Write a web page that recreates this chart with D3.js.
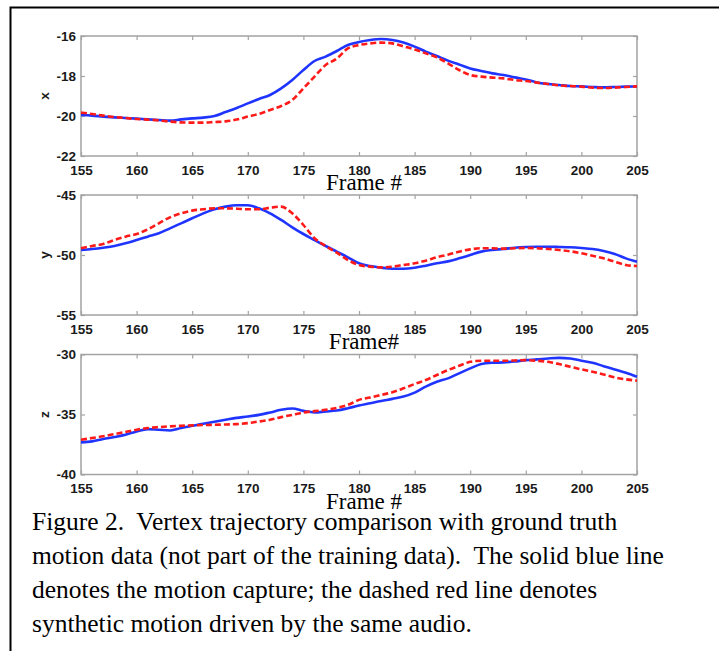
<!DOCTYPE html>
<html>
<head>
<meta charset="utf-8">
<script src="https://cdn.jsdelivr.net/npm/d3@7"></script>
<style>
  body { margin: 0; background: #fff; }
  svg { display: block; }
</style>
</head>
<body>
<svg id="chart"></svg>
<script>
// frame numbers shared by all three panels
var frames = [155, 156, 157, 158, 159, 160, 161, 162, 163, 164, 165, 166, 167, 168, 169, 170,
  171, 172, 173, 174, 175, 176, 177, 178, 179, 180, 181, 182, 183, 184, 185, 186, 187, 188,
  189, 190, 191, 192, 193, 194, 195, 196, 197, 198, 199, 200, 201, 202, 203, 204, 205];
var frameTicks = [155, 160, 165, 170, 175, 180, 185, 190, 195, 200, 205];

// X coordinate: motion capture (blue) vs synthetic (red)
var xCapture = [-19.95, -19.98, -20.03, -20.07, -20.1, -20.13, -20.17, -20.2, -20.23, -20.17,
  -20.12, -20.08, -20.0, -19.8, -19.6, -19.37, -19.15, -18.95, -18.62, -18.2, -17.7, -17.25,
  -17.03, -16.75, -16.45, -16.3, -16.2, -16.15, -16.2, -16.33, -16.53, -16.78, -17.0, -17.23,
  -17.42, -17.62, -17.75, -17.87, -17.95, -18.07, -18.17, -18.32, -18.4, -18.45, -18.5,
  -18.52, -18.55, -18.57, -18.55, -18.53, -18.52];
var xSynth = [-19.83, -19.9, -19.98, -20.05, -20.1, -20.15, -20.18, -20.22, -20.28, -20.32,
  -20.33, -20.33, -20.3, -20.27, -20.18, -20.03, -19.9, -19.7, -19.5, -19.2, -18.62, -18.03,
  -17.45, -17.13, -16.62, -16.45, -16.37, -16.33, -16.37, -16.52, -16.67, -16.87, -17.07,
  -17.37, -17.7, -17.95, -18.03, -18.08, -18.12, -18.2, -18.25, -18.33, -18.4, -18.47, -18.5,
  -18.53, -18.58, -18.6, -18.58, -18.55, -18.52];

// Y coordinate
var yCapture = [-49.58, -49.5, -49.39, -49.25, -49.03, -48.75, -48.47, -48.19, -47.78, -47.36,
  -46.94, -46.53, -46.19, -45.97, -45.86, -45.86, -46.11, -46.53, -47.08, -47.69, -48.25,
  -48.75, -49.25, -49.72, -50.19, -50.69, -50.92, -51.06, -51.14, -51.14, -51.06, -50.89,
  -50.69, -50.53, -50.28, -50.0, -49.72, -49.58, -49.5, -49.39, -49.33, -49.31, -49.31,
  -49.33, -49.36, -49.42, -49.5, -49.67, -49.92, -50.28, -50.56];
var ySynth = [-49.44, -49.25, -49.08, -48.75, -48.47, -48.25, -47.86, -47.36, -46.86, -46.53,
  -46.3, -46.19, -46.11, -46.11, -46.14, -46.19, -46.19, -46.06, -45.97, -46.53, -47.5, -48.6,
  -49.25, -49.8, -50.42, -50.83, -50.97, -51.03, -50.97, -50.83, -50.69, -50.47, -50.19,
  -49.97, -49.72, -49.53, -49.44, -49.44, -49.47, -49.44, -49.42, -49.44, -49.5, -49.58,
  -49.69, -49.86, -50.06, -50.28, -50.56, -50.83, -50.92];

// Z coordinate
var zCapture = [-37.32, -37.24, -37.04, -36.88, -36.69, -36.41, -36.22, -36.27, -36.33, -36.13,
  -35.94, -35.77, -35.61, -35.44, -35.28, -35.17, -35.03, -34.83, -34.61, -34.5, -34.7, -34.83,
  -34.75, -34.67, -34.48, -34.25, -34.06, -33.87, -33.7, -33.51, -33.18, -32.68, -32.27,
  -31.99, -31.57, -31.16, -30.8, -30.69, -30.66, -30.58, -30.47, -30.41, -30.33, -30.28,
  -30.33, -30.52, -30.69, -30.97, -31.24, -31.52, -31.85];
var zSynth = [-37.1, -36.96, -36.82, -36.63, -36.46, -36.27, -36.13, -36.05, -35.99, -35.94,
  -35.91, -35.88, -35.86, -35.83, -35.8, -35.72, -35.58, -35.44, -35.22, -35.03, -34.83, -34.72,
  -34.61, -34.45, -34.2, -33.78, -33.59, -33.37, -33.15, -32.82, -32.46, -32.13, -31.71, -31.3,
  -30.94, -30.61, -30.52, -30.52, -30.52, -30.5, -30.47, -30.52, -30.61, -30.8, -31.02, -31.24,
  -31.44, -31.66, -31.91, -32.07, -32.18];

var xTicks = [-22, -20, -18, -16];
var yTicks = [-55, -50, -45];
var zTicks = [-40, -35, -30];

var xLabels = ["Frame #", "Frame#", "Frame #"];
var captionLines = [
  "Figure 2.  Vertex trajectory comparison with ground truth",
  "motion data (not part of the training data).  The solid blue line",
  "denotes the motion capture; the dashed red line denotes",
  "synthetic motion driven by the same audio."
];

var panels = [
  { name: "x", capture: xCapture, synth: xSynth, ticks: xTicks, top: 36 },
  { name: "y", capture: yCapture, synth: ySynth, ticks: yTicks, top: 195 },
  { name: "z", capture: zCapture, synth: zSynth, ticks: zTicks, top: 354.5 }
];

var svgWidth = 719, svgHeight = 651;
var left = 81, right = 637, plotH = 120;
var boxColor = "#a3a3a3";
var tickFont = "'Liberation Sans', Arial, sans-serif";
var serif = "'Liberation Serif', 'Times New Roman', serif";
var plain = function (d) { return String(d); }; // hyphen minus, no decimals

var svg = d3.select("#chart")
  .attr("width", svgWidth)
  .attr("height", svgHeight);

// outer figure frame (only top and left edges are visible)
svg.append("path")
  .attr("d", "M10.5,651 V7.5 H719")
  .attr("fill", "none")
  .attr("stroke", "#000")
  .attr("stroke-width", 2);

var x = d3.scaleLinear()
  .domain([155, 205])
  .range([left, right]);

panels.forEach(function (p, i) {
  var y = d3.scaleLinear()
    .domain(d3.extent(p.ticks))
    .range([p.top + plotH, p.top]);

  var g = svg.append("g");

  // axes on all four sides, ticks pointing inward
  var bottom = g.append("g")
    .attr("transform", "translate(0," + (p.top + plotH) + ")")
    .call(d3.axisBottom(x).tickValues(frameTicks).tickSizeInner(-4).tickSizeOuter(0)
      .tickPadding(9).tickFormat(plain));
  var top = g.append("g")
    .attr("transform", "translate(0," + p.top + ")")
    .call(d3.axisTop(x).tickValues(frameTicks).tickSizeInner(-4).tickSizeOuter(0).tickFormat(""));
  var leftAx = g.append("g")
    .attr("transform", "translate(" + left + ",0)")
    .call(d3.axisLeft(y).tickValues(p.ticks).tickSizeInner(-4).tickSizeOuter(0)
      .tickPadding(5).tickFormat(plain));
  var rightAx = g.append("g")
    .attr("transform", "translate(" + right + ",0)")
    .call(d3.axisRight(y).tickValues(p.ticks).tickSizeInner(-4).tickSizeOuter(0).tickFormat(""));

  [bottom, top, leftAx, rightAx].forEach(function (ax) {
    ax.select(".domain").remove();
    ax.selectAll("line").attr("stroke", boxColor).attr("stroke-width", 1.2);
    ax.selectAll("text")
      .attr("fill", "#1a1a1a")
      .style("font-family", tickFont)
      .style("font-size", "13.5px")
      .style("font-weight", "bold");
  });

  // plot box
  g.append("rect")
    .attr("x", left)
    .attr("y", p.top)
    .attr("width", right - left)
    .attr("height", plotH)
    .attr("fill", "none")
    .attr("stroke", boxColor)
    .attr("stroke-width", 1.5);

  var line = d3.line()
    .x(function (d, j) { return x(frames[j]); })
    .y(function (d) { return y(d); })
    .curve(d3.curveMonotoneX);

  g.append("path")
    .datum(p.capture)
    .attr("fill", "none")
    .attr("stroke", "#1f35ff")
    .attr("stroke-width", 2.6)
    .attr("stroke-linejoin", "round")
    .attr("d", line);

  g.append("path")
    .datum(p.synth)
    .attr("fill", "none")
    .attr("stroke", "#ff1a1a")
    .attr("stroke-width", 2.6)
    .attr("stroke-dasharray", "6,3")
    .attr("d", line);

  // rotated axis name
  g.append("text")
    .attr("transform", "translate(44," + y(d3.mean(d3.extent(p.ticks))) + ") rotate(-90)")
    .attr("text-anchor", "middle")
    .attr("dy", "0.35em")
    .style("font-family", tickFont)
    .style("font-size", "13.5px")
    .style("font-weight", "bold")
    .attr("fill", "#1a1a1a")
    .text(p.name);

  // frame label in serif
  g.append("text")
    .attr("x", 364)
    .attr("y", p.top + plotH + 34)
    .attr("text-anchor", "middle")
    .style("font-family", serif)
    .style("font-size", "23px")
    .attr("fill", "#000")
    .text(xLabels[i]);
});

// caption
svg.append("g")
  .selectAll("text")
  .data(captionLines)
  .join("text")
  .attr("x", 32)
  .attr("y", function (d, i) { return 530 + i * 34; })
  .style("font-family", serif)
  .style("font-size", "25.5px")
  .style("white-space", "pre")
  .attr("fill", "#000")
  .text(function (d) { return d; });
</script>
</body>
</html>
